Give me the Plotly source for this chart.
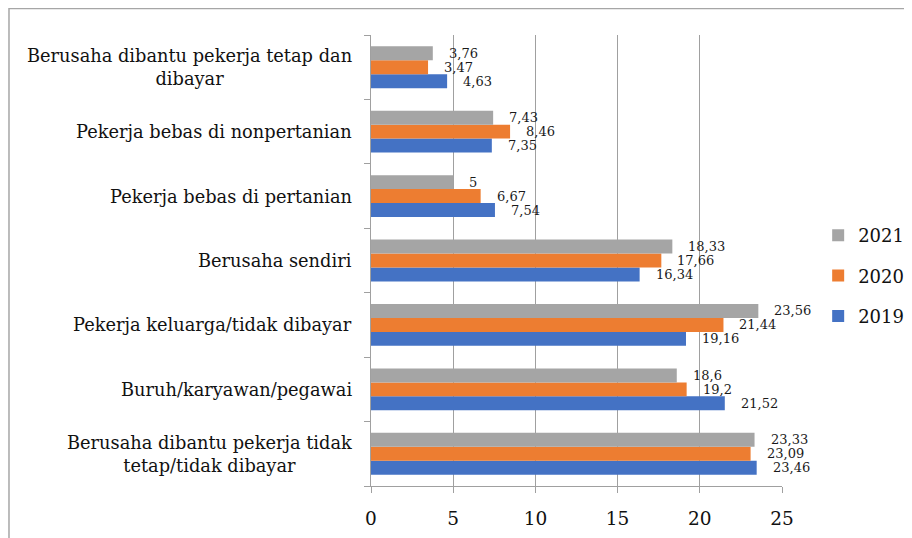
import plotly.graph_objects as go

categories = [
    "Berusaha dibantu pekerja tidak<br>tetap/tidak dibayar",
    "Buruh/karyawan/pegawai",
    "Pekerja keluarga/tidak dibayar",
    "Berusaha sendiri",
    "Pekerja bebas di pertanian",
    "Pekerja bebas di nonpertanian",
    "Berusaha dibantu pekerja tetap dan<br>dibayar",
]
years = ["2019", "2020", "2021"]
values_2019 = [23.46, 21.52, 19.16, 16.34, 7.54, 7.35, 4.63]
values_2020 = [23.09, 19.2, 21.44, 17.66, 6.67, 8.46, 3.47]
values_2021 = [23.33, 18.6, 23.56, 18.33, 5, 7.43, 3.76]
colors = ["#4472C4", "#ED7D31", "#A5A5A5"]
x_ticks = [0, 5, 10, 15, 20, 25]

series = [values_2019, values_2020, values_2021]
font_family = "DejaVu Serif"
bargap = 0.35

fig = go.Figure()
for k, (yr, vals, col) in enumerate(zip(years, series, colors)):
    fig.add_trace(go.Bar(
        x=vals, y=list(range(len(categories))), orientation="h", name=yr,
        marker=dict(color=col, line=dict(width=0)),
        legendgroup=yr, legendrank=len(years) - k,
    ))

annotations = []
bw = (1 - bargap) / len(years)
for k, vals in enumerate(series):
    for i, v in enumerate(vals):
        annotations.append(dict(
            x=v, y=i + (k - 1) * bw, xref="x", yref="y",
            text=f"{v:g}".replace(".", ","), showarrow=False,
            xanchor="left", yanchor="middle", xshift=14,
            font=dict(family=font_family, size=13, color="#1a1a1a"),
        ))
for i, c in enumerate(categories):
    annotations.append(dict(
        x=0, y=i, xref="x", yref="y", text=c, showarrow=False,
        xanchor="right", yanchor="middle", align="center", xshift=-17,
        font=dict(family=font_family, size=17.8, color="#111111"),
    ))

fig.update_layout(
    width=912, height=538,
    margin=dict(l=363, r=138, t=27, b=60, autoexpand=False),
    paper_bgcolor="white", plot_bgcolor="white",
    barmode="group", bargap=bargap, bargroupgap=0,
    separators=",.",
    showlegend=True,
    legend=dict(
        x=1.088, y=0.5965, xanchor="left", yanchor="top",
        traceorder="grouped", tracegroupgap=14,
        font=dict(family=font_family, size=18, color="#111111"),
        itemwidth=30,
    ),
    annotations=annotations,
    shapes=[dict(
        type="rect", xref="paper", yref="paper",
        x0=-0.8808, y0=1.0588, x1=1.35, y1=-0.2,
        line=dict(color="#A6A6A6", width=1.5), fillcolor="rgba(0,0,0,0)",
        layer="below",
    )],
)
fig.update_xaxes(
    range=[0, 25], tickvals=x_ticks, ticktext=[str(t) for t in x_ticks],
    showgrid=True, gridcolor="#A0A0A0", gridwidth=1,
    showline=True, linecolor="#A0A0A0", linewidth=1,
    ticks="outside", ticklen=6, tickcolor="#A0A0A0",
    tickfont=dict(family=font_family, size=18.5, color="#111111"),
    ticklabelstandoff=10, zeroline=False,
)
fig.update_yaxes(
    range=[-0.5, len(categories) - 0.5],
    tickvals=[i - 0.5 for i in range(len(categories) + 1)],
    showticklabels=False,
    showgrid=False, showline=True, linecolor="#A0A0A0", linewidth=1,
    ticks="outside", ticklen=6, tickcolor="#A0A0A0", zeroline=False,
)

fig.write_html("out.html")
